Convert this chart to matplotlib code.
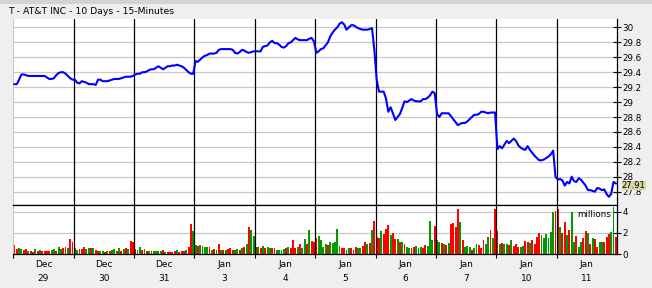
import matplotlib
matplotlib.use('Agg')
import matplotlib.pyplot as plt
import matplotlib.transforms as mtransforms
from matplotlib.patches import Rectangle
import numpy as np

# day labels under the volume panel
months = ['Dec', 'Dec', 'Dec', 'Jan', 'Jan', 'Jan', 'Jan', 'Jan', 'Jan', 'Jan']
days = ['29', '30', '31', '3', '4', '5', '6', '7', '10', '11']

# 15-minute closes, 26 bars per day
p_dec29 = [29.24, 29.24, 29.30, 29.37, 29.37, 29.36, 29.35, 29.35, 29.35, 29.35, 29.35, 29.35, 29.35,
           29.35, 29.33, 29.31, 29.31, 29.32, 29.36, 29.39, 29.40, 29.40, 29.38, 29.35, 29.32, 29.30]
p_dec30 = [29.30, 29.26, 29.25, 29.28, 29.27, 29.26, 29.24, 29.24, 29.24, 29.23, 29.30, 29.30, 29.28,
           29.28, 29.28, 29.29, 29.30, 29.31, 29.31, 29.31, 29.32, 29.33, 29.34, 29.34, 29.34, 29.35]
p_dec31 = [29.37, 29.38, 29.38, 29.40, 29.40, 29.41, 29.43, 29.44, 29.44, 29.46, 29.48, 29.46, 29.44,
           29.46, 29.48, 29.48, 29.49, 29.49, 29.50, 29.49, 29.48, 29.46, 29.43, 29.40, 29.38, 29.38]
p_jan03 = [29.55, 29.54, 29.57, 29.60, 29.62, 29.63, 29.65, 29.65, 29.65, 29.66, 29.70, 29.71, 29.71,
           29.71, 29.71, 29.71, 29.70, 29.66, 29.65, 29.67, 29.70, 29.69, 29.67, 29.66, 29.67, 29.68]
p_jan04 = [29.68, 29.68, 29.68, 29.74, 29.75, 29.76, 29.80, 29.82, 29.79, 29.79, 29.77, 29.74, 29.73,
           29.75, 29.79, 29.80, 29.83, 29.86, 29.84, 29.83, 29.83, 29.83, 29.83, 29.85, 29.86, 29.81]
p_jan05 = [29.66, 29.68, 29.71, 29.72, 29.76, 29.80, 29.88, 29.93, 29.97, 30.00, 30.05, 30.07, 30.04,
           29.97, 30.00, 30.03, 30.03, 30.01, 29.99, 29.98, 29.97, 29.97, 29.97, 29.98, 29.99, 29.70]
p_jan06 = [29.30, 29.14, 29.14, 29.14, 29.05, 28.87, 28.93, 28.85, 28.76, 28.80, 28.84, 28.92, 29.01,
           29.00, 29.02, 29.04, 29.02, 29.01, 29.01, 29.01, 29.04, 29.04, 29.06, 29.09, 29.14, 29.12]
p_jan07 = [28.84, 28.80, 28.85, 28.85, 28.85, 28.85, 28.81, 28.77, 28.73, 28.69, 28.71, 28.72, 28.72,
           28.74, 28.77, 28.80, 28.83, 28.83, 28.84, 28.87, 28.87, 28.86, 28.85, 28.86, 28.86, 28.86]
p_jan10 = [28.37, 28.41, 28.38, 28.43, 28.48, 28.45, 28.48, 28.51, 28.48, 28.42, 28.39, 28.37, 28.36,
           28.41, 28.36, 28.32, 28.28, 28.25, 28.22, 28.22, 28.23, 28.25, 28.27, 28.30, 28.35, 28.00]
p_jan11 = [27.96, 27.97, 27.95, 27.88, 27.93, 27.91, 28.00, 27.94, 27.93, 27.98, 27.96, 27.92, 27.88,
           27.82, 27.82, 27.81, 27.80, 27.85, 27.84, 27.82, 27.83, 27.77, 27.73, 27.77, 27.93, 27.91]

# volume in millions
v_dec29 = [0.85, 0.5, 0.6, 0.5, 0.4, 0.5, 0.3, 0.35, 0.25, 0.5, 0.3, 0.4, 0.3, 0.3, 0.3, 0.3, 0.4, 0.5,
           0.35, 0.65, 0.5, 0.55, 0.65, 0.6, 1.4, 1.15]
v_dec30 = [0.55, 0.4, 0.5, 0.5, 0.65, 0.5, 0.6, 0.6, 0.55, 0.4, 0.3, 0.27, 0.3, 0.25, 0.35, 0.3, 0.4, 0.5,
           0.35, 0.55, 0.35, 0.5, 0.6, 0.5, 1.25, 1.15]
v_dec31 = [0.5, 0.4, 0.65, 0.4, 0.5, 0.35, 0.3, 0.35, 0.27, 0.3, 0.3, 0.3, 0.4, 0.25, 0.25, 0.25, 0.25, 0.3,
           0.4, 0.25, 0.3, 0.35, 0.4, 0.65, 2.8, 2.2]
v_jan03 = [0.85, 0.8, 0.85, 0.8, 0.7, 0.65, 0.65, 0.4, 0.5, 0.4, 0.95, 0.4, 0.45, 0.4, 0.5, 0.55, 0.45, 0.4,
           0.5, 0.45, 0.6, 0.65, 1.0, 2.6, 2.3, 1.7]
v_jan04 = [0.65, 0.7, 0.6, 0.8, 0.55, 0.65, 0.55, 0.6, 0.6, 0.4, 0.4, 0.4, 0.5, 0.55, 0.7, 0.55, 1.3, 0.55,
           0.7, 0.95, 0.6, 1.45, 1.0, 2.3, 1.25, 1.2]
v_jan05 = [1.55, 1.7, 1.3, 0.7, 1.0, 0.9, 1.2, 1.1, 1.15, 2.4, 0.8, 0.6, 0.55, 0.45, 0.55, 0.55, 0.4, 0.7,
           0.55, 0.6, 0.8, 1.2, 1.0, 1.1, 2.3, 3.1]
v_jan06 = [1.6, 1.5, 2.2, 1.9, 2.4, 2.75, 1.8, 2.0, 1.45, 1.45, 1.2, 1.2, 1.0, 0.7, 0.55, 0.55, 0.65, 0.8,
           0.6, 0.65, 0.55, 0.9, 0.8, 3.1, 1.35, 2.65]
v_jan07 = [1.35, 1.2, 1.1, 1.0, 0.9, 1.1, 2.8, 2.9, 2.6, 4.25, 3.0, 1.35, 0.7, 0.75, 0.7, 0.45, 0.55, 1.0,
           0.9, 0.6, 1.35, 1.0, 1.65, 2.3, 1.5, 4.25]
v_jan10 = [2.2, 1.0, 1.1, 1.0, 1.0, 0.9, 1.3, 0.8, 0.95, 0.7, 0.7, 0.8, 1.25, 1.15, 1.1, 1.35, 1.0, 1.6,
           2.0, 1.8, 1.5, 1.9, 1.5, 2.1, 4.0, 4.1]
v_jan11 = [4.3, 2.6, 2.0, 3.0, 1.8, 2.3, 3.95, 1.2, 1.7, 0.65, 1.2, 1.5, 2.2, 2.0, 1.0, 1.5, 1.4, 0.7,
           1.2, 1.2, 1.2, 1.6, 1.9, 2.05, 4.4, 1.65]

# bar colour per 15-min bar: R = down, G = up
c_dec29 = "RRGGRRGRRGRGRRRRGGRGGRRGRR"
c_dec30 = "GGRRRGGRGRRGGRGRGGRGRGRGRR"
c_dec31 = "RGGRGRGRGGGGRGRRRRGRRRGRRG"
c_jan03 = "GRGGGGRGRGRGRGRRRGGRGRGRGG"
c_jan04 = "RGRGRGGRRGGGGRGRRRGRGGRGRR"
c_jan05 = "RGGGGRGGGGGRRGGRRRGGRRGRGR"
c_jan06 = "RRGRRRGRRGRGRGGRRGGGRRGGGR"
c_jan07 = "GGRGRGRRRRGRGGGRGGRRRGGRGR"
c_jan10 = "RGRGGRGRRRGGRRGRRRRGGGGGGR"
c_jan11 = "RGRRGRGGRGGRRGRGRRGGRRRGGR"

last_price = 27.91

price = np.concatenate([p_dec29, p_dec30, p_dec31, p_jan03, p_jan04, p_jan05, p_jan06, p_jan07, p_jan10, p_jan11])
vol = np.concatenate([v_dec29, v_dec30, v_dec31, v_jan03, v_jan04, v_jan05, v_jan06, v_jan07, v_jan10, v_jan11])
cols = c_dec29 + c_dec30 + c_dec31 + c_jan03 + c_jan04 + c_jan05 + c_jan06 + c_jan07 + c_jan10 + c_jan11
bar_colors = ['#ff0000' if c == 'R' else '#009a00' for c in cols]

nday = 26
x = np.arange(len(price))
bounds = np.arange(len(days)) * nday - 0.5
centers = np.arange(len(days)) * nday + (nday - 1) / 2

W, H = 652, 288
bg = '#efefef'
grid_c = '#c8c8c8'
fs = 6.3

fig = plt.figure(figsize=(W / 100, H / 100), dpi=100, facecolor=bg)
fig.patches.append(Rectangle((0, 1 - 3 / H), 1, 3 / H, transform=fig.transFigure, color='#d6d3ce'))
fig.text(8 / W, 1 - 11 / H, 'T - AT&T INC - 10 Days - 15-Minutes', fontsize=6.7, va='center', ha='left')

ax = fig.add_axes([13.3 / W, 1 - 204.7 / H, (617 - 13.3) / W, (204.7 - 18.5) / H])
axv = fig.add_axes([13.3 / W, 1 - 254.3 / H, (617 - 13.3) / W, (254.3 - 204.7) / H])

# price panel
ax.plot(x, price, color='#0000ff', lw=1.5, zorder=4)
ax.set_xlim(-0.5, len(price) - 0.5)
ax.set_ylim(27.625, 30.12)
pticks = [27.8, 28.0, 28.2, 28.4, 28.6, 28.8, 29.0, 29.2, 29.4, 29.6, 29.8, 30.0]
ax.set_yticks(pticks)
ax.set_yticklabels(['%g' % t for t in pticks], fontsize=fs)
ax.yaxis.tick_right()
ax.tick_params(axis='y', direction='inout', length=6, width=0.8, pad=1)
ax.set_xticks([])
ax.grid(axis='y', color=grid_c, lw=0.9, zorder=1)
for b in bounds[1:]:
    ax.axvline(b, color='k', lw=0.9, zorder=3)
ax.spines['top'].set_visible(False)
ax.spines['left'].set_color(grid_c)
ax.spines['right'].set_linewidth(0.9)
ax.spines['bottom'].set_linewidth(0.9)

trans = mtransforms.blended_transform_factory(ax.transAxes, ax.transData)
ax.text(1.008, last_price - 0.025, '%.2f' % last_price, transform=trans, fontsize=6.0, va='center', ha='left',
        bbox=dict(facecolor='#d8d4a8', edgecolor='none', pad=0.2), clip_on=False)

# volume panel
axv.bar(x, vol, width=0.82, color=bar_colors, zorder=2)
axv.set_xlim(-0.5, len(price) - 0.5)
axv.set_ylim(0, 4.657)
axv.set_yticks([0, 2, 4])
axv.set_yticklabels(['0', '2', '4'], fontsize=fs)
axv.yaxis.tick_right()
axv.tick_params(axis='y', direction='inout', length=6, width=0.8, pad=1)
axv.grid(axis='y', color=grid_c, lw=0.9, zorder=1)
axv.set_xticks(bounds)
axv.set_xticklabels([])
axv.tick_params(axis='x', direction='out', length=3, width=0.8)
for b in bounds[1:]:
    axv.axvline(b, color='k', lw=0.9, zorder=3)
axv.spines['left'].set_color(grid_c)
for s in ['top', 'right', 'bottom']:
    axv.spines[s].set_linewidth(0.9)
axv.text(0.99, 3.69, 'millions', transform=mtransforms.blended_transform_factory(axv.transAxes, axv.transData),
         fontsize=fs, ha='right', va='center', zorder=5)

xt = axv.get_xaxis_transform()
for cx, m, d in zip(centers, months, days):
    axv.text(cx, -0.206, m, transform=xt, fontsize=6.5, ha='center', va='center')
    axv.text(cx, -0.492, d, transform=xt, fontsize=6.5, ha='center', va='center')

fig.savefig('out.png', dpi=100, facecolor=bg)
